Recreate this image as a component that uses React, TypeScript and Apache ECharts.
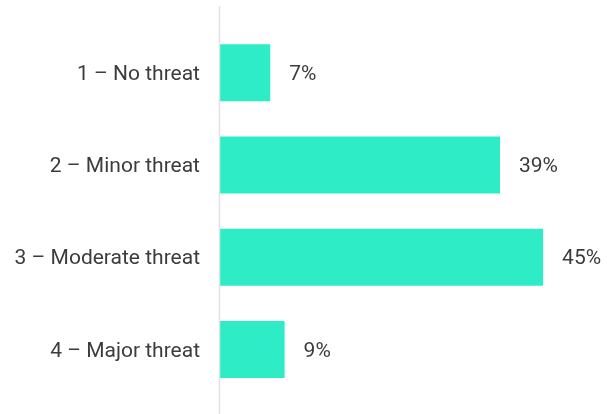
import React, { useEffect, useRef } from "react";
import * as echarts from "echarts";

const categories = ["1 – No threat", "2 – Minor threat", "3 – Moderate threat", "4 – Major threat"];
const values = [7, 39, 45, 9];

export default function App() {
  const ref = useRef<HTMLDivElement>(null);
  useEffect(() => {
    if (!ref.current) return;
    const chart = echarts.init(ref.current, null, { renderer: "svg" });
    chart.setOption({
      animation: false,
      textStyle: { fontFamily: "Roboto" },
      grid: { left: 220, right: 31, top: 26.5, bottom: 18.3, containLabel: false },
      xAxis: {
        type: "value",
        min: 0,
        max: 50,
        show: false,
      },
      yAxis: {
        type: "category",
        data: categories,
        inverse: true,
        axisLine: { show: false },
        axisTick: { show: false },
        axisLabel: { color: "#3c3c3c", fontSize: 21, margin: 20, fontFamily: "Roboto" },
        splitLine: { show: false },
      },
      graphic: [
        {
          type: "line",
          shape: { x1: 219.5, y1: 6, x2: 219.5, y2: 414 },
          style: { stroke: "#e2e2e2", lineWidth: 1.5 },
          z: 10,
        },
      ],
      series: [
        {
          type: "bar",
          data: values,
          barWidth: 57,
          itemStyle: { color: "#2eedc6" },
          label: {
            show: true,
            position: "right",
            distance: 19,
            formatter: "{c}%",
            color: "#3c3c3c",
            fontSize: 21,
            fontFamily: "Roboto",
          },
        },
      ],
    });
    return () => chart.dispose();
  }, []);
  return <div ref={ref} style={{ position: "fixed", left: 0, top: 0, width: 610, height: 414 }} />;
}
